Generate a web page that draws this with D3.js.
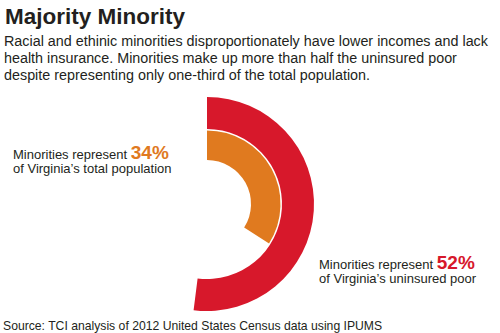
<!DOCTYPE html>
<html>
<head>
<meta charset="utf-8">
<script src="https://cdn.jsdelivr.net/npm/d3@7"></script>
<style>
html,body{margin:0;padding:0;background:#fff;}
svg{display:block;font-family:"Liberation Sans",Arial,sans-serif;}
</style>
</head>
<body>
<svg id="chart" width="500" height="333"></svg>
<script>
const series = ["Virginia's uninsured poor", "Virginia's total population"];
const values = [52, 34];
const colors = ["#d7182b", "#e07a1f"];
const title = "Majority Minority";
const subtitle = [
  "Racial and ethinic minorities disproportionately have lower incomes and lack",
  "health insurance. Minorities make up more than half the uninsured poor",
  "despite representing only one-third of the total population."
];
const source = "Source: TCI analysis of 2012 United States Census data using IPUMS";

const svg = d3.select("#chart");
const W = 500, H = 333;
svg.append("rect").attr("width", W).attr("height", H).attr("fill", "#fff");

svg.append("text").attr("x", 5).attr("y", 24)
  .attr("font-size", 22.5).attr("font-weight", "bold").attr("fill", "#231f20")
  .text(title);

subtitle.forEach((s, i) => {
  svg.append("text").attr("x", 4).attr("y", 46 + i * 17)
    .attr("font-size", 14.35).attr("fill", "#231f20").text(s);
});

const cx = 207, cy = 204;
const angle = d3.scaleLinear().domain([0, 100]).range([0, 2 * Math.PI]);
const radii = [[75, 107], [44, 73.5]];
const arc = d3.arc();
const g = svg.append("g").attr("transform", `translate(${cx},${cy})`);
g.selectAll("path").data(values).join("path")
  .attr("d", (d, i) => arc({innerRadius: radii[i][0], outerRadius: radii[i][1], startAngle: 0, endAngle: angle(d)}))
  .attr("fill", (d, i) => colors[i]);

function label(x, y, value, color, line2) {
  const t = svg.append("text").attr("x", x).attr("y", y).attr("font-size", 13).attr("fill", "#231f20");
  t.append("tspan").text("Minorities represent ");
  t.append("tspan").attr("font-size", 19).attr("font-weight", "bold").attr("fill", color).text(value + "%");
  svg.append("text").attr("x", x).attr("y", y + 14).attr("font-size", 13).attr("fill", "#231f20").text(line2);
}
label(13, 159, values[1], colors[1], "of Virginia\u2019s total population");
label(319, 269, values[0], colors[0], "of Virginia\u2019s uninsured poor");

svg.append("text").attr("x", 3).attr("y", 330).attr("font-size", 12.2).attr("fill", "#231f20").text(source);
</script>
</body>
</html>
